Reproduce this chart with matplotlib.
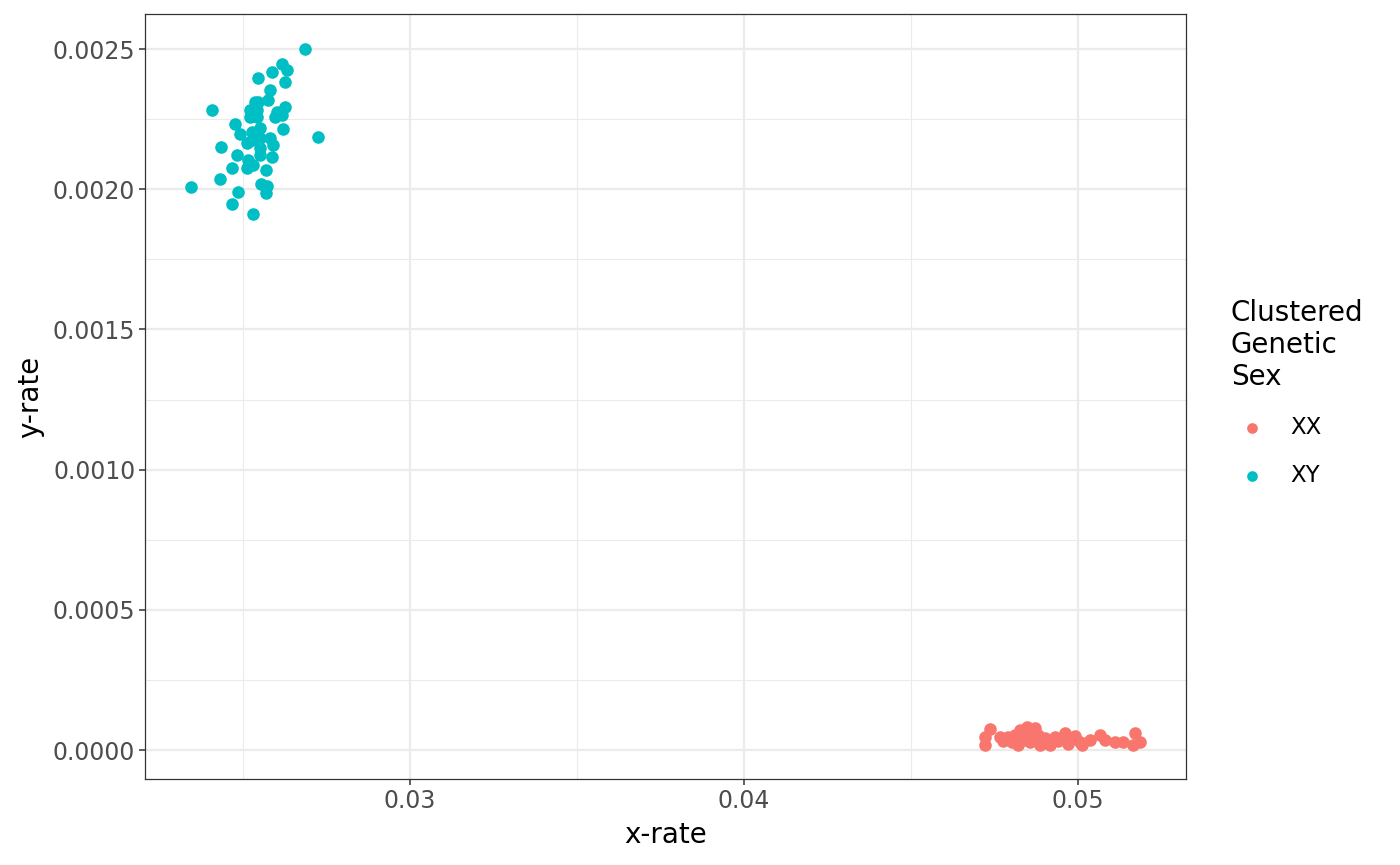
import numpy as np
import matplotlib
matplotlib.use("Agg")
from matplotlib import pyplot as plt
from matplotlib.ticker import MultipleLocator, FixedLocator

# XY cluster
xy_x = [0.02686, 0.02616, 0.02633, 0.02586, 0.02546, 0.02627, 0.02580, 0.02536,
        0.02545, 0.02575, 0.02625, 0.02406, 0.02521, 0.02541, 0.02601, 0.02616,
        0.02521, 0.02541, 0.02596, 0.02476, 0.02621, 0.02551, 0.02526, 0.02725,
        0.02491, 0.02581, 0.02551, 0.02526, 0.02511, 0.02591, 0.02433, 0.02551,
        0.02481, 0.02586, 0.02551, 0.02516, 0.02466, 0.02511, 0.02531, 0.02569,
        0.02431, 0.02553, 0.02571, 0.02344, 0.02568, 0.02484, 0.02468, 0.02530]
xy_y = [0.002500, 0.002445, 0.002425, 0.002417, 0.002398, 0.002383, 0.002354, 0.002312,
        0.002312, 0.002318, 0.002294, 0.002281, 0.002282, 0.002282, 0.002276, 0.002265,
        0.002256, 0.002256, 0.002256, 0.002233, 0.002214, 0.002217, 0.002205, 0.002187,
        0.002197, 0.002182, 0.002182, 0.002175, 0.002164, 0.002158, 0.002152, 0.002146,
        0.002122, 0.002116, 0.002122, 0.002104, 0.002075, 0.002075, 0.002086, 0.002068,
        0.002036, 0.002019, 0.002013, 0.002007, 0.001985, 0.001989, 0.001946, 0.001910]

# XX cluster
xx_x = [0.04722, 0.04722, 0.04737, 0.04766, 0.04775, 0.04790, 0.04811, 0.04820,
        0.04826, 0.04841, 0.04847, 0.04856, 0.04862, 0.04871, 0.04856, 0.04880,
        0.04910, 0.04916, 0.04931, 0.04940, 0.04952, 0.04961, 0.04970, 0.04976,
        0.04991, 0.05006, 0.05012, 0.05036, 0.05066, 0.05081, 0.05111, 0.05135,
        0.05165, 0.05171, 0.05186, 0.04886, 0.04901, 0.04832, 0.04802]
xx_y = [0.0000464, 0.0000178, 0.0000749, 0.0000464, 0.0000321, 0.0000464, 0.0000535, 0.0000178,
        0.0000713, 0.0000357, 0.0000820, 0.0000606, 0.0000428, 0.0000785, 0.0000285, 0.0000535,
        0.0000357, 0.0000178, 0.0000464, 0.0000321, 0.0000428, 0.0000606, 0.0000214, 0.0000357,
        0.0000500, 0.0000285, 0.0000178, 0.0000357, 0.0000535, 0.0000357, 0.0000285, 0.0000285,
        0.0000178, 0.0000606, 0.0000285, 0.0000178, 0.0000428, 0.0000428, 0.0000285]

groups = ["XX", "XY"]
colors = {"XX": "#F8766D", "XY": "#00BFC4"}

fig = plt.figure(figsize=(14, 8.65), dpi=100)
ax = fig.add_axes([0.1036, 0.0994, 0.7434, 0.8844])

ax.scatter(xx_x, xx_y, s=82, color=colors["XX"], linewidths=0, label="XX", zorder=3)
ax.scatter(xy_x, xy_y, s=82, color=colors["XY"], linewidths=0, label="XY", zorder=3)

ax.set_xlim(0.022066, 0.053234)
ax.set_ylim(-0.0001034, 0.0026248)

ax.xaxis.set_major_locator(FixedLocator([0.03, 0.04, 0.05]))
ax.xaxis.set_minor_locator(FixedLocator([0.025, 0.035, 0.045]))
ax.yaxis.set_major_locator(MultipleLocator(0.0005))
ax.yaxis.set_minor_locator(MultipleLocator(0.00025))
ax.set_xticklabels(["0.03", "0.04", "0.05"])
ax.set_yticklabels([f"{v:.4f}" for v in ax.get_yticks()])

ax.grid(which="major", color="#EBEBEB", linewidth=1.6, zorder=0)
ax.grid(which="minor", color="#EBEBEB", linewidth=0.8, zorder=0)
ax.set_axisbelow(True)
for s in ax.spines.values():
  s.set_color("#333333")
  s.set_linewidth(0.9)
ax.tick_params(which="major", length=4, width=1.1, color="#333333",
               labelsize=17, labelcolor="#4D4D4D", pad=3)
ax.tick_params(which="minor", length=0)

ax.set_xlabel("x-rate", fontsize=20, labelpad=6)
ax.set_ylabel("y-rate", fontsize=20, labelpad=6)

leg = fig.legend(handles=ax.collections, labels=groups,
                 title="Clustered\nGenetic\nSex", loc="upper left",
                 bbox_to_anchor=(0.8645, 0.678), frameon=False,
                 fontsize=16.5, title_fontsize=20, alignment="left",
                 markerscale=0.85, labelspacing=1.09, handletextpad=0.78,
                 handlelength=1.83)
leg.get_title().set_linespacing(1.17)

plt.savefig("out.png")
